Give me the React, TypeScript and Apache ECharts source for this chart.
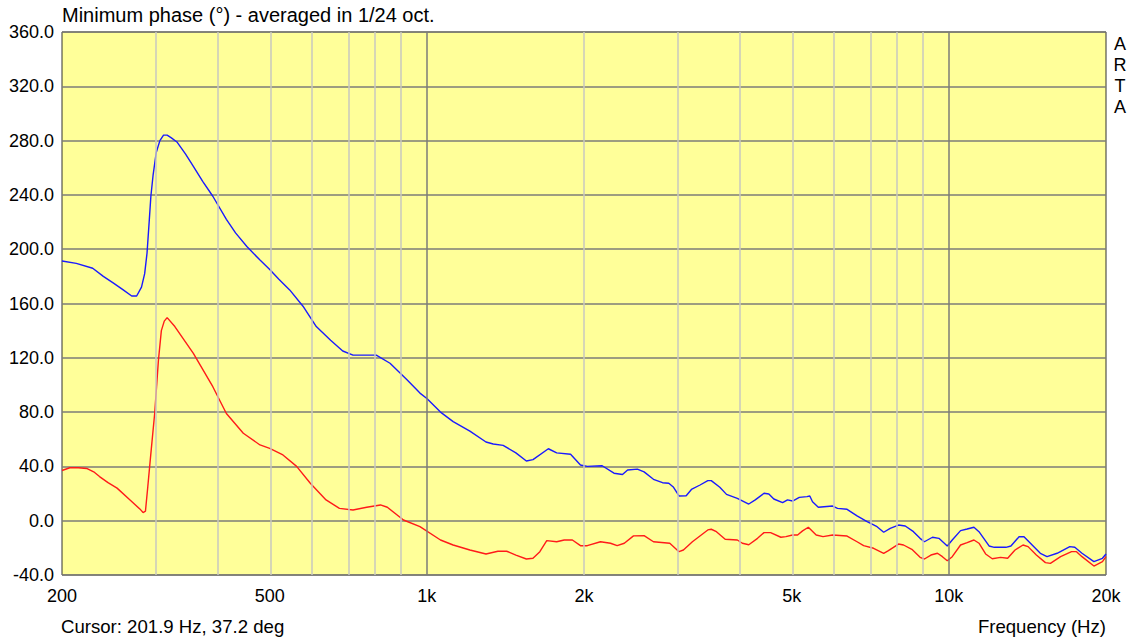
import React, { useEffect, useRef } from "react";
import * as echarts from "echarts";

// Frequency (Hz), phase (deg)
const bluePhase: [number, number][] = [
  [200,191.3],[213,189.6],[229,186],[240,180],[251,175],[262,170],[272,165.5],[278,165.5],[284,172],[288,182],[291,197],[294,222],[296,239],[299,255],[303,271],[308,280],[313,284],[318,284],[324,282],[332,279],[345,270],[357,261],[372,250],[389,239],[413,222],[430,212],[452,202],[479,192],[500,185],[520,178],[546,170],[579,158],[614,143],[654,133],[690,125],[722,122],[760,122],[800,122],[850,116],[915,104],[970,94],[1000,90],[1062,80],[1123,73],[1209,66],[1298,58],[1340,56.5],[1400,55.5],[1481,50],[1551,44],[1597,45],[1709,53],[1773,50],[1885,49],[1969,41],[2029,40],[2167,40.5],[2283,35],[2370,34],[2424,37.4],[2531,38],[2607,36],[2717,30.5],[2828,28],[2907,27.6],[2969,24.6],[3041,18.2],[3139,18.4],[3212,23],[3337,26.3],[3453,29.5],[3506,29.5],[3641,24.6],[3750,19.4],[3933,16.5],[4137,12.3],[4257,15.3],[4425,20.2],[4520,19.7],[4620,16],[4803,13.3],[4908,15.3],[5019,14.5],[5170,17.2],[5348,17.7],[5415,18.2],[5480,14],[5622,9.9],[5988,10.8],[6120,9.1],[6383,8.4],[6670,3.5],[6972,-0.7],[7285,-4.4],[7502,-8.5],[7720,-5.6],[8008,-3.2],[8250,-3.9],[8554,-8.1],[8807,-13],[8977,-15.5],[9303,-12.2],[9570,-13],[9930,-18.6],[10150,-14.2],[10530,-7.3],[10840,-6.1],[11170,-4.8],[11420,-8.1],[11940,-18.6],[12220,-19.6],[12860,-19.6],[13150,-18.6],[13630,-11.8],[13930,-11.8],[14440,-17.9],[14970,-24],[15420,-26.5],[16120,-24],[17050,-19.1],[17430,-19.6],[17990,-24],[18960,-30.2],[19690,-27.7],[20000,-24.5]
];

const redPhase: [number, number][] = [
  [200,37],[207,39],[215,39],[223,38.5],[230,36],[236,32.5],[245,28],[255,24],[270,15.3],[283,8],[286,6],[289,7],[292,25],[296,49.6],[301,79],[306,118],[310,140],[314,147],[318,149.6],[329,143],[357,123.3],[389,98.7],[413,79],[445,64.4],[479,55.8],[500,53.3],[530,48.4],[563,40],[598,27.6],[641,15.3],[680,9.1],[722,7.9],[767,9.9],[815,11.6],[840,9.9],[902,0.5],[970,-4.4],[1062,-14.2],[1123,-17.9],[1209,-21.6],[1298,-24.5],[1368,-22.5],[1422,-22.5],[1481,-25.3],[1551,-28.2],[1597,-27.7],[1646,-22.8],[1697,-14.7],[1773,-15.5],[1833,-14.2],[1900,-14.2],[1969,-18.4],[2029,-18.4],[2151,-15.5],[2248,-16.6],[2315,-18.4],[2389,-16.6],[2488,-11.2],[2607,-11],[2717,-15.5],[2920,-16.6],[3041,-22.8],[3101,-21.6],[3226,-15.5],[3453,-6.8],[3506,-6.3],[3587,-8.1],[3728,-13.7],[3933,-14.2],[4022,-16.6],[4137,-17.7],[4300,-13],[4425,-8.8],[4555,-8.8],[4766,-12.2],[4873,-11.7],[5019,-10.5],[5131,-10.5],[5245,-7.5],[5380,-4.8],[5570,-10.5],[5740,-11.7],[5988,-10.5],[6383,-11.3],[6670,-15.5],[6866,-18.4],[7175,-20.3],[7502,-24],[7660,-22.1],[8008,-17.2],[8188,-17.9],[8494,-21.1],[8807,-27],[8977,-28.2],[9240,-25.3],[9510,-24],[9720,-26.5],[9930,-29.5],[10150,-26.5],[10530,-17.9],[10840,-16.2],[11170,-14.2],[11420,-16.6],[11760,-24.5],[12110,-28],[12560,-27],[12960,-27.7],[13390,-21.6],[13870,-17.9],[14180,-19.1],[14710,-25.3],[15310,-30.9],[15650,-31.4],[16370,-26.5],[17180,-22.8],[17560,-22.8],[17990,-26.5],[18960,-33.4],[19690,-30.2],[20000,-26.5]
];

const xTickHz = [200, 500, 1000, 2000, 5000, 10000, 20000];
const xTickLabels = ["200", "500", "1k", "2k", "5k", "10k", "20k"];
const minorGridHz = [300, 400, 500, 600, 700, 800, 900, 2000, 3000, 4000, 5000, 6000, 7000, 8000, 9000];
const majorGridHz = [1000, 10000];

const FONT = '"Liberation Sans", Arial, sans-serif';

export default function App() {
  const ref = useRef<HTMLDivElement>(null);
  useEffect(() => {
    if (!ref.current) return;
    const chart = echarts.init(ref.current, undefined, { renderer: "svg" });
    const lg = (f: number) => Math.log10(f);
    const tickVals = xTickHz.map(lg);
    const gridLines = [
      ...minorGridHz.map((f) => ({ xAxis: lg(f), lineStyle: { color: "#c8c8c0", width: 1.5, type: "solid" } })),
      ...majorGridHz.map((f) => ({ xAxis: lg(f), lineStyle: { color: "#7c7c78", width: 1.5, type: "solid" } })),
    ];
    chart.setOption({
      animation: false,
      textStyle: { fontFamily: FONT },
      grid: {
        show: true,
        left: 62,
        right: 27,
        top: 32,
        bottom: 63,
        backgroundColor: "#FFFF99",
        borderColor: "#303030",
        borderWidth: 1,
      },
      xAxis: {
        type: "value",
        min: lg(200),
        max: lg(20000),
        axisLine: { show: false },
        axisTick: { show: false },
        splitLine: { show: false },
        axisLabel: {
          customValues: tickVals,
          fontSize: 18,
          color: "#000",
          fontFamily: FONT,
          margin: 12,
          formatter: (v: number) => {
            const i = tickVals.findIndex((t) => Math.abs(t - v) < 1e-6);
            return i >= 0 ? xTickLabels[i] : "";
          },
        },
      },
      yAxis: {
        type: "value",
        min: -40,
        max: 360,
        interval: 40,
        axisLine: { show: false },
        axisTick: { show: false },
        splitLine: { show: true, lineStyle: { color: "#7c7c78", width: 1.5 } },
        axisLabel: {
          fontSize: 18,
          color: "#000",
          fontFamily: FONT,
          margin: 8,
          formatter: (v: number) => v.toFixed(1),
        },
      },
      series: [
        {
          type: "line",
          data: [],
          z: 1,
          silent: true,
          markLine: {
            silent: true,
            symbol: ["none", "none"],
            label: { show: false },
            data: gridLines,
          },
        },
        {
          type: "line",
          name: "blue",
          data: bluePhase.map(([f, v]) => [lg(f), v]),
          showSymbol: false,
          symbol: "none",
          z: 3,
          lineStyle: { color: "#1a1aff", width: 1.4 },
        },
        {
          type: "line",
          name: "red",
          data: redPhase.map(([f, v]) => [lg(f), v]),
          showSymbol: false,
          symbol: "none",
          z: 3,
          lineStyle: { color: "#ff1a1a", width: 1.4 },
        },
      ],
      graphic: [
        {
          type: "text",
          x: 62,
          y: 15,
          style: { text: "Minimum phase (°) - averaged in 1/24 oct.", fontSize: 20, fontFamily: FONT, fill: "#000", align: "left", verticalAlign: "middle" },
        },
        {
          type: "text",
          x: 61,
          y: 626,
          style: { text: "Cursor: 201.9 Hz, 37.2 deg", fontSize: 18.6, fontFamily: FONT, fill: "#000", align: "left", verticalAlign: "middle" },
        },
        {
          type: "text",
          x: 1106,
          y: 626,
          style: { text: "Frequency (Hz)", fontSize: 18.6, fontFamily: FONT, fill: "#000", align: "right", verticalAlign: "middle" },
        },
        {
          type: "text",
          x: 1120,
          y: 33,
          style: { text: "A\nR\nT\nA", fontSize: 18, lineHeight: 21, fontFamily: FONT, fill: "#000", align: "center", verticalAlign: "top" },
        },
      ],
    });
    return () => chart.dispose();
  }, []);
  return <div ref={ref} style={{ position: "absolute", left: 0, top: 0, width: 1133, height: 638 }} />;
}
